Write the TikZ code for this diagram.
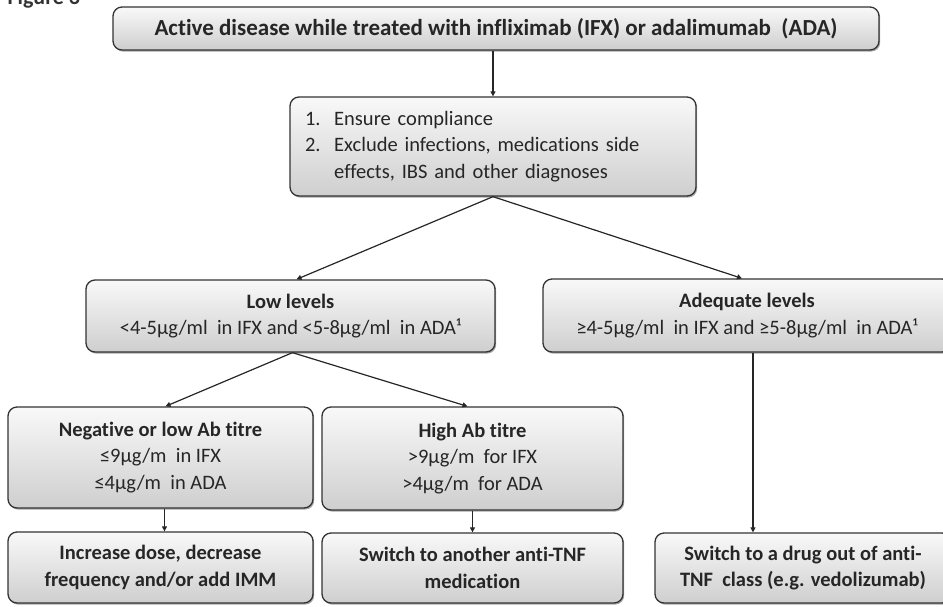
\documentclass[tikz,border=0pt]{standalone}
\usepackage{fontspec}
\setmainfont{Carlito}[RawFeature={-liga}]
\usetikzlibrary{shadows,arrows.meta}
\begin{document}
\begin{tikzpicture}[x=1pt,y=-1pt,
  box/.style={draw=black!80, line width=1.3pt, rounded corners=9pt,
    top color=gray!5, bottom color=gray!38,
    drop shadow={shadow xshift=1.2pt, shadow yshift=-1.6pt, opacity=0.35, fill=black},
    inner sep=0pt, align=center, font=\fontsize{20.5}{26.5}\selectfont, text=black!85},
  arr/.style={line width=1.2pt, draw=black!85, -{Triangle[length=5pt,width=5pt]}}]
\useasboundingbox (0,0) rectangle (943,606);

\node[anchor=base west, font=\fontsize{22}{26}\selectfont\bfseries, text=black!80] (fig) at (4,4) {Figure 3};

\node[box, minimum width=766pt, minimum height=43pt, font=\fontsize{23}{26}\selectfont] (top) at (496,28.5)
  {\textbf{Active disease while treated with infliximab (IFX) or adalimumab\ \ (ADA)}};

\node[box, minimum width=406pt, minimum height=99pt, inner xsep=15pt, text width=376pt, align=left] (chk) at (493,146.5)
  {1.\ \ Ensure compliance\\
   2.\ \ Exclude infections, medications side\\
   \hphantom{2.\ \ }effects, IBS and other diagnoses};

\node[box, minimum width=409pt, minimum height=72pt] (low) at (290.5,316)
  {\textbf{Low levels}\\ <4-5μg/ml\ \ in IFX and <5-8μg/ml\ \ in ADA¹};

\node[box, minimum width=408pt, minimum height=73pt] (adeq) at (747,315.5)
  {\textbf{Adequate levels}\\ ≥4-5μg/ml\ \ in IFX and ≥5-8μg/ml\ \ in ADA¹};

\node[box, minimum width=305pt, minimum height=101pt] (neg) at (160.5,457.5)
  {\textbf{Negative or low Ab titre}\\ ≤9μg/m\ \ in IFX\\ ≤4μg/m\ \ in ADA};

\node[box, minimum width=301pt, minimum height=103pt] (high) at (472.5,458.5)
  {\textbf{High Ab titre}\\ >9μg/m\ \ for IFX\\ >4μg/m\ \ for ADA};

\node[box, minimum width=305pt, minimum height=71pt] (inc) at (160.5,567.5)
  {\textbf{Increase dose, decrease}\\ \textbf{frequency and/or add IMM}};

\node[box, minimum width=301pt, minimum height=70pt] (sw) at (472.5,568)
  {\textbf{Switch to another anti-TNF}\\ \textbf{medication}};

\node[box, minimum width=296pt, minimum height=70pt] (drug) at (803,568)
  {\textbf{Switch to a drug out of anti-}\\ \textbf{TNF\ \ class (e.g. vedolizumab)}};

\draw[arr] (chk.north |- top.south) -- (chk.north);
\draw[arr] (chk.south) -- ([xshift=6pt]low.north);
\draw[arr] (chk.south) -- ([xshift=-5pt]adeq.north);
\draw[arr] ([xshift=2pt]low.south) -- ([xshift=5pt]neg.north);
\draw[arr] ([xshift=2pt]low.south) -- ([xshift=-5pt]high.north);
\draw[arr] ([xshift=4pt]neg.south) -- ([xshift=4pt]inc.north);
\draw[arr] (high.south) -- (sw.north);
\draw[arr] ([xshift=6pt]adeq.south) -- ([xshift=6pt]adeq.south |- drug.north);
\end{tikzpicture}
\end{document}
